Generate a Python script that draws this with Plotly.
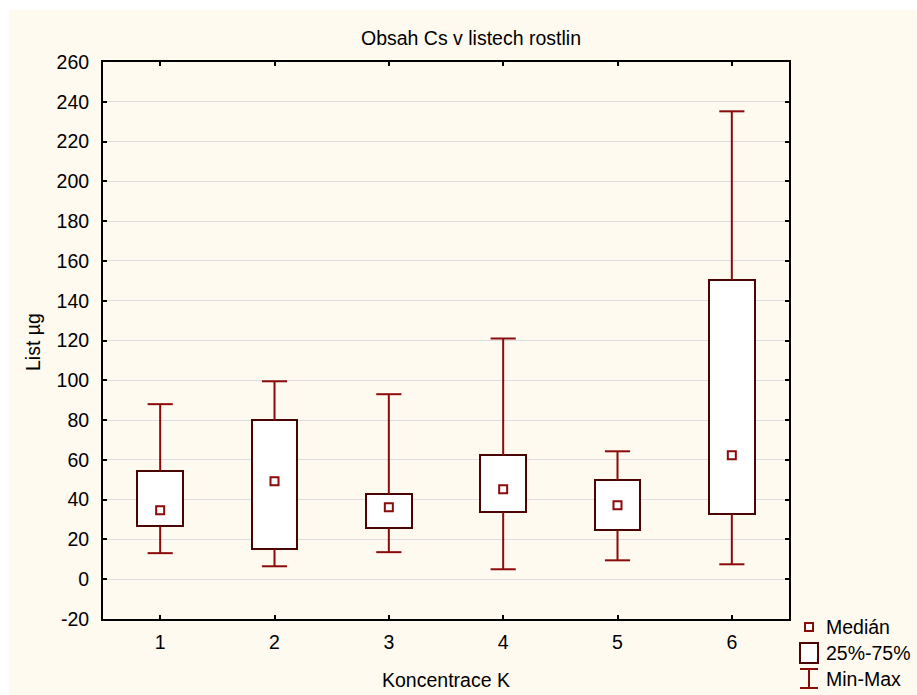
import plotly.graph_objects as go

# Cs content in leaves by K concentration: quartiles, median and extremes
categories = [1, 2, 3, 4, 5, 6]
minimum = [13.1, 6.5, 13.6, 5.0, 9.5, 7.5]
q1 = [26.6, 15.1, 25.6, 33.7, 24.6, 32.7]
median = [34.7, 49.2, 36.2, 45.2, 37.2, 62.3]
q3 = [54.3, 79.9, 42.7, 62.3, 49.7, 150.3]
maximum = [88.0, 99.5, 93.0, 121.0, 64.3, 235.2]

y_ticks = list(range(-20, 261, 20))
y_tick_text = [str(v) for v in y_ticks]

WHISKER = "#8b0a0a"
BOX_EDGE = "#4a0404"
CREAM = "#fefaf0"
FONT = "Liberation Sans, Arial, sans-serif"
FS = 19.5

BOX_W = 0.4
CAP_HALF = 0.11

W, H = 917, 695
L, R, T, B = 103, 128, 62, 76
PW, PH = W - L - R, H - T - B


def px_x(px):
    return (px - L) / PW


def px_y(py):
    return (H - B - py) / PH


fig = go.Figure()

# whiskers: vertical stems plus horizontal caps
wx, wy = [], []
for c, lo, a, b, hi in zip(categories, minimum, q1, q3, maximum):
    wx += [c, c, None, c, c, None,
           c - CAP_HALF, c + CAP_HALF, None, c - CAP_HALF, c + CAP_HALF, None]
    wy += [b, hi, None, lo, a, None, hi, hi, None, lo, lo, None]
fig.add_trace(go.Scatter(x=wx, y=wy, mode="lines",
                         line=dict(color=WHISKER, width=2),
                         hoverinfo="skip", showlegend=False))

# interquartile boxes
fig.add_trace(go.Bar(x=categories, y=[b - a for a, b in zip(q1, q3)], base=q1,
                     width=BOX_W, marker=dict(color="white",
                                              line=dict(color=BOX_EDGE, width=2)),
                     showlegend=False))

# medians
fig.add_trace(go.Scatter(x=categories, y=median, mode="markers",
                         marker=dict(symbol="square-open", size=8, color=WHISKER,
                                     line=dict(width=2, color=WHISKER)),
                         showlegend=False))

shapes = [
    # cream panel behind everything
    dict(type="rect", xref="paper", yref="paper", layer="below",
         x0=px_x(9), x1=px_x(W + 2), y0=px_y(H + 2), y1=px_y(10),
         fillcolor=CREAM, line=dict(width=0)),
    # legend glyphs
    dict(type="rect", xref="paper", yref="paper",
         x0=px_x(805), x1=px_x(813), y0=px_y(631), y1=px_y(623),
         fillcolor="white", line=dict(color=WHISKER, width=2)),
    dict(type="rect", xref="paper", yref="paper",
         x0=px_x(800), x1=px_x(818), y0=px_y(663), y1=px_y(643),
         fillcolor="white", line=dict(color=BOX_EDGE, width=2)),
    dict(type="line", xref="paper", yref="paper",
         x0=px_x(809), x1=px_x(809), y0=px_y(688), y1=px_y(669),
         line=dict(color=WHISKER, width=2)),
    dict(type="line", xref="paper", yref="paper",
         x0=px_x(800), x1=px_x(818), y0=px_y(669), y1=px_y(669),
         line=dict(color=WHISKER, width=2)),
    dict(type="line", xref="paper", yref="paper",
         x0=px_x(800), x1=px_x(818), y0=px_y(688), y1=px_y(688),
         line=dict(color=WHISKER, width=2)),
]


def label(text, px, py, xanchor="center", angle=0):
    return dict(text=text, xref="paper", yref="paper", x=px_x(px), y=px_y(py),
                xanchor=xanchor, yanchor="middle", textangle=angle,
                showarrow=False, font=dict(size=FS, color="black", family=FONT))


annotations = [
    label("Obsah Cs v listech rostlin", 471, 38),
    label("Koncentrace K", 446, 680),
    label("List µg", 33, 342, angle=-90),
]
for text, py in [("Medián", 627), ("25%-75%", 653), ("Min-Max", 679)]:
    annotations.append(label(text, 824, py, xanchor="left"))

fig.update_layout(
    width=W, height=H, autosize=False,
    margin=dict(l=L, r=R, t=T, b=B, pad=0),
    paper_bgcolor="white", plot_bgcolor="white",
    font=dict(family=FONT, size=FS, color="black"),
    shapes=shapes, annotations=annotations,
    showlegend=False, bargap=0,
    xaxis=dict(range=[0.5, 6.5], tickvals=categories,
               ticktext=[str(c) for c in categories],
               showgrid=False, zeroline=False,
               showline=True, linecolor="black", linewidth=2, mirror="ticks",
               ticks="inside", ticklen=4, tickwidth=2, tickcolor="black",
               ticklabelstandoff=5, fixedrange=True),
    yaxis=dict(range=[-20, 260], tickvals=y_ticks, ticktext=y_tick_text,
               showgrid=True, gridcolor="#dedede", gridwidth=1, zeroline=False,
               showline=True, linecolor="black", linewidth=2, mirror="ticks",
               ticks="inside", ticklen=4, tickwidth=2, tickcolor="black",
               ticklabelstandoff=8, fixedrange=True),
)

fig.write_html("out.html")
